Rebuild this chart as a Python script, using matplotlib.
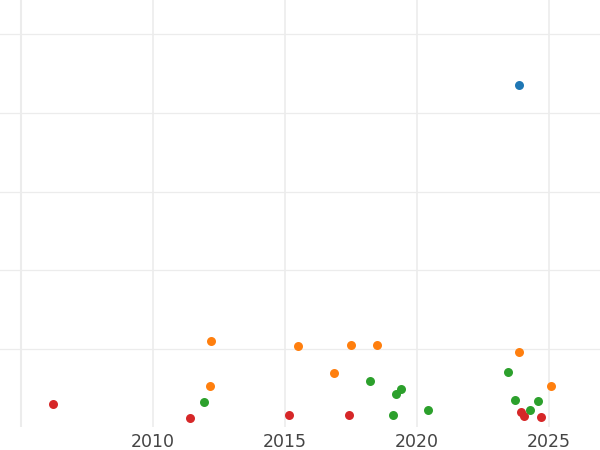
import matplotlib
matplotlib.use("Agg")
import matplotlib.pyplot as plt

# values (year, value)
red_x = [2006.21, 2011.40, 2015.16, 2017.44, 2023.94, 2024.05, 2024.71]
red_y = [0.297, 0.118, 0.157, 0.157, 0.199, 0.140, 0.131]

orange_x = [2012.20, 2012.17, 2015.48, 2016.86, 2017.49, 2018.47, 2023.88, 2025.09]
orange_y = [1.098, 0.525, 1.030, 0.687, 1.043, 1.043, 0.954, 0.520]

green_x = [2011.92, 2018.21, 2019.19, 2019.38, 2019.07, 2020.43,
           2023.43, 2023.72, 2024.29, 2024.57]
green_y = [0.326, 0.589, 0.427, 0.491, 0.157, 0.220,
           0.700, 0.343, 0.216, 0.338]

blue_x = [2023.88]
blue_y = [4.355]

x_ticks = [2010, 2015, 2020, 2025]
y_grid = [1, 2, 3, 4, 5]

fig = plt.figure(figsize=(6, 4.5), dpi=100)
ax = fig.add_axes([0, 1 - 427.3 / 450, 1, 427.3 / 450])

grid_color = "#ececec"
ax.axvline(2005, color=grid_color, lw=1.5, zorder=0)
for t in x_ticks:
    ax.axvline(t, color=grid_color, lw=1.2, zorder=0)
for v in y_grid:
    ax.axhline(v, color=grid_color, lw=0.9, zorder=0)

ax.scatter(red_x, red_y, s=42, color="#d62728", zorder=3, linewidths=0)
ax.scatter(orange_x, orange_y, s=42, color="#ff7f0e", zorder=3, linewidths=0)
ax.scatter(green_x, green_y, s=42, color="#2ca02c", zorder=3, linewidths=0)
ax.scatter(blue_x, blue_y, s=42, color="#1f77b4", zorder=3, linewidths=0)

ax.set_xlim(2004.2, 2026.93)
ax.set_ylim(0, 427.3 / 78.6)
ax.set_xticks(x_ticks)
ax.set_xticklabels([str(t) for t in x_ticks], fontsize=12.5, color="#444444")
ax.set_yticks([])
ax.tick_params(axis="x", length=0, pad=4)
for s in ax.spines.values():
    s.set_visible(False)

fig.savefig("out.png", dpi=100)
plt.close(fig)
